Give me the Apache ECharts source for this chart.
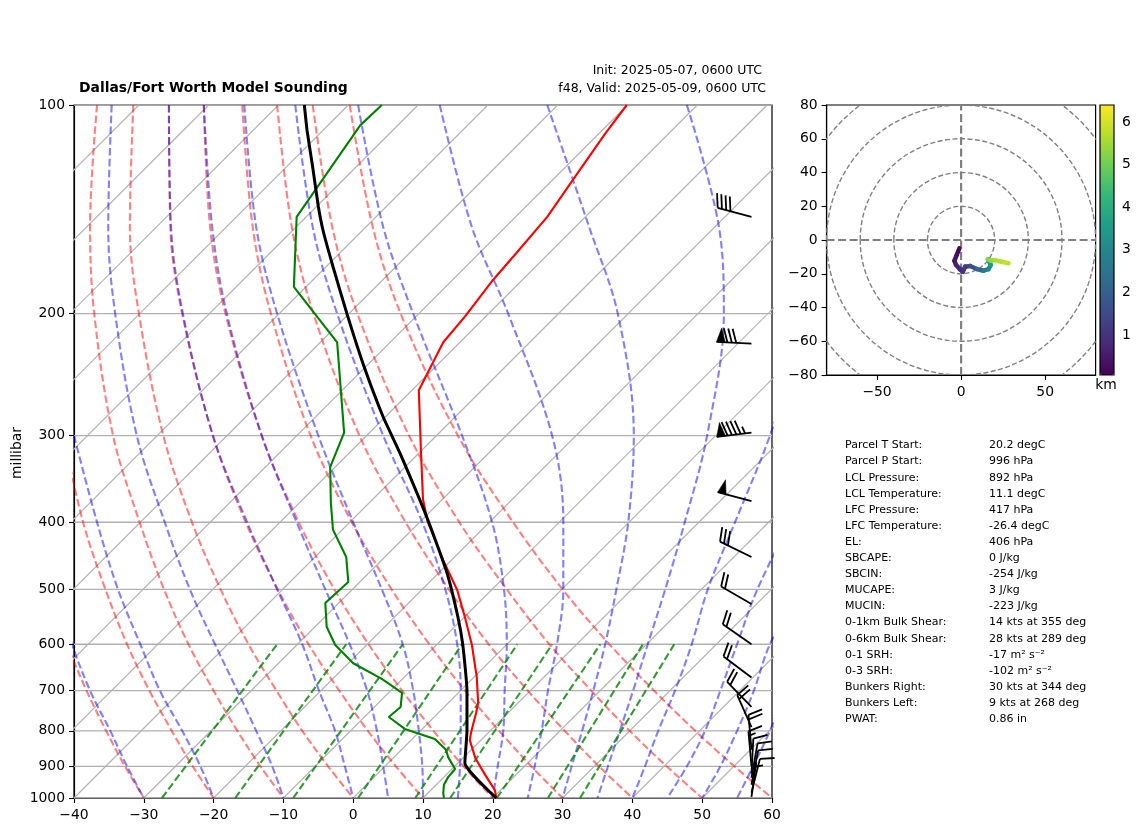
<!DOCTYPE html>
<html>
<head>
<meta charset="utf-8">
<title>Dallas/Fort Worth Model Sounding</title>
<script src="https://cdn.jsdelivr.net/npm/echarts@6/dist/echarts.min.js"></script>
<style>
  html, body { margin: 0; padding: 0; background: #fff; }
  #grafico { width: 1142px; height: 832px; }
</style>
</head>
<body>
<div id="grafico"></div>
<script>
// x values are read on the bottom axis of the skewed plot, y values are millibar
const xTicks = [-40, -30, -20, -10, 0, 10, 20, 30, 40, 50, 60];
const pressureTicks = [100, 200, 300, 400, 500, 600, 700, 800, 900, 1000];
const isothermStarts = [-130, -120, -110, -100, -90, -80, -70, -60, -50, -40, -30, -20, -10, 0, 10, 20, 30, 40, 50];
const isothermSpan = 99.3;

// guide lines, read at these levels and aligned to the end of the list
const guideLevels = [100, 150, 200, 300, 400, 500, 600, 700, 800, 900, 1000];
const dryAdiabats = [
  [-43.8, -41, -38.2, -35.4, -32.7, -30],
  [-41.5, -38.7, -35.5, -32.4, -29.2, -26, -23, -20],
  [-36.7, -37.7, -37.1, -34.4, -30.6, -27.1, -23.6, -20, -16.6, -13.3, -10],
  [-31.5, -32, -30.7, -27.2, -23.1, -19, -15, -11, -7.3, -3.6, 0],
  [-26.4, -26.2, -24.5, -20.1, -15.4, -10.8, -6.4, -2, 2.1, 6.1, 10],
  [-21.4, -20.5, -18.3, -13.1, -7.8, -2.7, 2.2, 7, 11.5, 15.8, 20],
  [-15.9, -14.4, -11.8, -6.1, -0.2, 5.5, 10.9, 16, 20.9, 25.5, 30],
  [-10.9, -8.8, -5.7, 0.9, 7.5, 13.7, 19.4, 25, 30.3, 35.2, 40],
  [-5.8, -3, 0.6, 8, 15.2, 22, 28.1, 34.1, 39.6, 44.9, 50],
  [-0.5, 2.8, 6.8, 15, 22.9, 30, 36.7, 43.1, 49, 54.6, 60]
];
const moistAdiabats = [
  [-42.7, -40.3, -37.7, -34.8, -32.4, -30],
  [-40, -36.7, -33.7, -30.5, -27.7, -24.5, -21.9, -20],
  [-34.6, -35.1, -34.1, -31, -27, -23.4, -19.8, -16.6, -13.9, -11.6, -10],
  [-26.4, -26.1, -24.4, -20.1, -15.2, -10.9, -7.3, -4.9, -2.6, -1.2, 0],
  [-21.4, -20.2, -18.1, -13.1, -8.1, -4, -0.5, 2, 3.4, 4.3, 5],
  [-15.6, -13.9, -10.9, -5, 0, 4.1, 7.1, 8.6, 9.4, 9.9, 10],
  [-8.3, -5.8, -2.3, 4.3, 9.9, 13.2, 14.9, 15.4, 15.4, 15.3, 15],
  [0.7, 4.3, 8.6, 15.6, 19.9, 21.6, 22, 21.7, 21.5, 20.7, 20],
  [12.4, 17, 22.2, 28.5, 30.1, 30.1, 29.2, 27.9, 27, 26, 25],
  [27.8, 33.8, 37.9, 40.2, 39.4, 37.7, 36.1, 34.4, 32.8, 31.3, 30],
  [47.8, 52.4, 53.1, 50.7, 47.5, 44.7, 42.2, 40.1, 38.2, 36.5, 35],
  [65.4, 59.7, 54.7, 50.8, 48.5, 46.1, 43.7, 41.8, 40],
  [62.6, 57.9, 55, 52.6, 50.4, 47.8, 45],
  [64, 59.7, 57.4, 55, 52.6, 50],
  [65.4, 62, 59.7, 57.3, 55]
];
const mixingBottom = [-27.4, -16.9, -8.6, 0.7, 8.9, 13.9, 20.6, 27.9, 32.5];
const mixingTop = [-10.9, -1, 7.1, 15.6, 23.5, 28.5, 35.4, 41.5, 46];

// sounding profiles
const tempPressure = [100, 110, 129, 145, 163, 179, 202, 220, 258, 315, 371, 400, 454, 501, 548, 601, 669, 729, 754, 803, 825, 876, 926, 974, 1000];
const tempValues = [39.2, 36.1, 31.3, 27.8, 23.5, 20, 16, 12.9, 9.4, 9.7, 10, 10.7, 12.9, 14.9, 16, 17, 17.7, 17.9, 17.6, 16.9, 16.7, 17.5, 18.9, 20.3, 20.5];
const dewPressure = [100, 107, 145, 183, 220, 297, 333, 375, 410, 449, 488, 523, 566, 601, 639, 673, 705, 739, 764, 795, 822, 852, 873, 908, 933, 957, 983, 1000];
const dewValues = [4.1, 1, -8.1, -8.5, -2.3, -1.3, -3.3, -3.2, -2.9, -1, -0.7, -4, -3.8, -2.6, 0, 4.1, 7, 6.8, 5.1, 7.4, 11.7, 13.3, 13.6, 14.6, 13.6, 13, 12.9, 13];
const parcelPressure = [100, 109, 123, 140, 152, 171, 200, 236, 282, 318, 397, 472, 548, 601, 700, 800, 890, 1000];
const parcelValues = [-7, -6.6, -5.8, -5, -4.3, -2.9, -0.9, 1.4, 4.3, 6.7, 10.7, 13.4, 15, 15.7, 16.3, 16.3, 16, 20.5];

// wind barbs
const barbColumn = 57.06;
const barbPressure = [145, 221, 297, 373, 449, 525, 600, 670, 739, 790, 852, 900, 922, 935, 957, 983, 996];
const barbSpeed = [40, 80, 95, 50, 30, 20, 20, 20, 20, 20, 20, 15, 10, 10, 10, 10, 5];
const barbDirection = [285, 273, 263, 285, 296, 300, 305, 307, 316, 336, 355, 355, 3, 10, 11, 14, 8];

// hodograph
const hodoU = [-1, -2.6, -4, -3, -0.6, 1, 2.4, 5.4, 9.3, 13.3, 16.3, 17.7, 15.9, 17.7, 20.2, 24, 28.2];
const hodoV = [-4.9, -8.9, -12.3, -14.8, -17.4, -18.8, -15.8, -15.4, -17.2, -18.2, -17.2, -14.8, -11.5, -12.3, -11.9, -12.9, -13.8];
const hodoHeight = [0.06, 0.2, 0.35, 0.5, 0.7, 0.85, 1, 1.2, 1.6, 2.2, 2.7, 3.1, 3.5, 5.2, 5.4, 5.6, 5.8];
const hodoRings = [20, 40, 60, 80, 100];
const viridis = ['#440154', '#482878', '#3e4989', '#31688e', '#26828e', '#1f9e89', '#35b779', '#6ece58', '#b5de2b', '#fde725'];

// parcel table
const statLabels = ['Parcel T Start:', 'Parcel P Start:', 'LCL Pressure:', 'LCL Temperature:', 'LFC Pressure:', 'LFC Temperature:', 'EL:', 'SBCAPE:', 'SBCIN:', 'MUCAPE:', 'MUCIN:', '0-1km Bulk Shear:', '0-6km Bulk Shear:', '0-1 SRH:', '0-3 SRH:', 'Bunkers Right:', 'Bunkers Left:', 'PWAT:'];
const statValues = ['20.2 degC', '996 hPa', '892 hPa', '11.1 degC', '417 hPa', '-26.4 degC', '406 hPa', '0 J/kg', '-254 J/kg', '3 J/kg', '-223 J/kg', '14 kts at 355 deg', '28 kts at 289 deg', '-17 m² s⁻²', '-102 m² s⁻²', '30 kts at 344 deg', '9 kts at 268 deg', '0.86 in'];

const font = 'DejaVu Sans';
const minus = v => String(v).replace('-', '\u2212');

function guideSeries(points, color, width, dashed, z) {
  return {
    type: 'line', xAxisIndex: 0, yAxisIndex: 0, data: points, symbol: 'none', silent: true, clip: true, z: z,
    lineStyle: { color: color, width: width, type: dashed ? [7.5, 3.3] : 'solid' }
  };
}

function levelPoints(values) {
  const levels = guideLevels.slice(-values.length);
  return values.map((v, i) => [v, levels[i]]);
}

function renderBarb(params, api) {
  const tip = api.coord([api.value(0), api.value(1)]);
  const dir = api.value(3) * Math.PI / 180;
  const ax = Math.sin(dir), ay = -Math.cos(dir);
  const nx = -ay, ny = ax;
  const length = 35, height = 14, width = 8.75, spacing = 4.4;
  const end = [tip[0] + ax * length, tip[1] + ay * length];
  const along = d => [end[0] - ax * d, end[1] - ay * d];
  const lineStyle = { stroke: '#000', lineWidth: 1.8, fill: null };
  const children = [{ type: 'line', shape: { x1: tip[0], y1: tip[1], x2: end[0], y2: end[1] }, style: lineStyle }];
  let left = api.value(2), pos = 0;
  while (left >= 50) {
    const a = along(pos), b = along(pos + width), c = along(pos + width / 2);
    children.push({ type: 'polygon', shape: { points: [a, b, [c[0] + nx * height, c[1] + ny * height]] }, style: { fill: '#000', stroke: '#000', lineWidth: 0.5 } });
    pos += width + spacing / 2;
    left -= 50;
  }
  while (left >= 10) {
    const a = along(pos);
    children.push({ type: 'line', shape: { x1: a[0], y1: a[1], x2: a[0] + nx * height + ax * width / 2, y2: a[1] + ny * height + ay * width / 2 }, style: lineStyle });
    pos += spacing;
    left -= 10;
  }
  if (left >= 5) {
    if (pos === 0) pos = spacing;
    const a = along(pos);
    children.push({ type: 'line', shape: { x1: a[0], y1: a[1], x2: a[0] + nx * height / 2 + ax * width / 4, y2: a[1] + ny * height / 2 + ay * width / 4 }, style: lineStyle });
  }
  return { type: 'group', children: children };
}

function renderRing(params, api) {
  const center = api.coord([0, 0]);
  const size = api.size([api.value(0), api.value(0)], [0, 0]);
  return {
    type: 'ellipse',
    shape: { cx: center[0], cy: center[1], rx: size[0], ry: size[1] },
    style: { fill: null, stroke: '#808080', lineWidth: 1.4, lineDash: [5, 2.5] }
  };
}

function renderHodoSegment(params, api) {
  const a = api.coord([api.value(0), api.value(1)]);
  const b = api.coord([api.value(2), api.value(3)]);
  return {
    type: 'line',
    shape: { x1: a[0], y1: a[1], x2: b[0], y2: b[1] },
    style: { stroke: api.visual('color'), lineWidth: 4.5, lineCap: 'round' }
  };
}

// main plot series
const series = [];
isothermStarts.forEach(t => series.push(guideSeries([[t, 1000], [t + isothermSpan, 100]], '#b4b4b4', 1.2, false, 1)));
pressureTicks.forEach(p => series.push(guideSeries([[xTicks[0], p], [xTicks[xTicks.length - 1], p]], '#b0b0b0', 1.3, false, 1)));
dryAdiabats.forEach(line => {
  const s = guideSeries(levelPoints(line), 'rgba(255,0,0,0.5)', 2.1, true, 2);
  s.smooth = 0.35;
  series.push(s);
});
moistAdiabats.forEach(line => {
  const s = guideSeries(levelPoints(line), 'rgba(0,0,255,0.5)', 2.1, true, 2);
  s.smooth = 0.35;
  series.push(s);
});
mixingBottom.forEach((v, i) => series.push(guideSeries([[v, 1000], [mixingTop[i], 600]], 'rgba(0,128,0,0.8)', 2.1, true, 2)));
series.push(guideSeries(tempValues.map((v, i) => [v, tempPressure[i]]), '#ff0000', 2.1, false, 5));
series.push(guideSeries(dewValues.map((v, i) => [v, dewPressure[i]]), '#008000', 2.1, false, 5));
const parcelLine = guideSeries(parcelValues.map((v, i) => [v, parcelPressure[i]]), '#000', 3, false, 6);
parcelLine.smooth = 0.15;
series.push(parcelLine);
series.push({
  type: 'custom', xAxisIndex: 0, yAxisIndex: 0, renderItem: renderBarb, silent: true, clip: false, z: 7,
  encode: { x: 0, y: 1 },
  data: barbPressure.map((p, i) => [barbColumn, p, barbSpeed[i], barbDirection[i]])
});

// hodograph series
series.push({
  type: 'line', xAxisIndex: 1, yAxisIndex: 1, symbol: 'none', silent: true, z: 2,
  data: [[-80, 0], [80, 0]], lineStyle: { color: '#808080', width: 2.2, type: [8, 3.5] }
});
series.push({
  type: 'line', xAxisIndex: 1, yAxisIndex: 1, symbol: 'none', silent: true, z: 2,
  data: [[0, -80], [0, 80]], lineStyle: { color: '#808080', width: 2.2, type: [8, 3.5] }
});
series.push({
  type: 'custom', xAxisIndex: 1, yAxisIndex: 1, renderItem: renderRing, silent: true, clip: true, z: 2,
  encode: { x: 0, y: 1 },
  data: hodoRings.map(r => [r, 0])
});
series.push({
  type: 'custom', xAxisIndex: 1, yAxisIndex: 1, renderItem: renderHodoSegment, silent: true, clip: true, z: 4,
  encode: { x: [0, 2], y: [1, 3] },
  data: hodoHeight.slice(1).map((h, i) => [hodoU[i], hodoV[i], hodoU[i + 1], hodoV[i + 1], h])
});
const hodoLineIndex = series.length - 1;

// titles, table and the km label
const texts = [
  { x: 79, y: 88, text: 'Dallas/Fort Worth Model Sounding', font: 'bold 13.9px "' + font + '"', align: 'left' },
  { x: 762, y: 71, text: 'Init: 2025-05-07, 0600 UTC', font: '12.5px "' + font + '"', align: 'right' },
  { x: 766, y: 89, text: 'f48, Valid: 2025-05-09, 0600 UTC', font: '12.5px "' + font + '"', align: 'right' },
  { x: 1106, y: 385, text: 'km', font: '13.9px "' + font + '"', align: 'center' }
];
statLabels.forEach((label, i) => {
  const y = 445.5 + i * 16.1;
  texts.push({ x: 845, y: y, text: label, font: '11px "' + font + '"', align: 'left' });
  texts.push({ x: 989, y: y, text: statValues[i], font: '11px "' + font + '"', align: 'left' });
});

const axisLine = { show: true, onZero: false, lineStyle: { color: '#000', width: 1.2 } };
const axisTick = { show: true, length: 5, lineStyle: { color: '#000', width: 1.1 } };
const axisLabel = { color: '#000', fontFamily: font, fontSize: 13.9, margin: 10, formatter: minus };
const sideLabel = Object.assign({}, axisLabel, { margin: 9 });

const chart = echarts.init(document.getElementById('grafico'));
chart.setOption({
  animation: false,
  backgroundColor: '#fff',
  textStyle: { fontFamily: font },
  grid: [
    { left: 74, top: 105, width: 698, height: 693, show: true, borderColor: '#000', borderWidth: 1.2, backgroundColor: 'transparent', outerBoundsMode: 'none' },
    { left: 826.6, top: 105, width: 269, height: 270, show: true, borderColor: '#000', borderWidth: 1.2, backgroundColor: 'transparent', outerBoundsMode: 'none' },
    { left: 1100, top: 105, width: 14, height: 270, show: true, borderColor: '#000', borderWidth: 1.2, backgroundColor: 'transparent', z: 10, outerBoundsMode: 'none' }
  ],
  xAxis: [
    { type: 'value', gridIndex: 0, min: -40, max: 60, interval: 10, axisLine: axisLine, axisTick: axisTick, axisLabel: axisLabel, splitLine: { show: false } },
    {
      type: 'value', gridIndex: 1, min: -80, max: 80, axisLine: axisLine, splitLine: { show: false },
      axisTick: Object.assign({}, axisTick, { customValues: [-50, 0, 50] }),
      axisLabel: Object.assign({}, axisLabel, { customValues: [-50, 0, 50] })
    },
    { type: 'value', gridIndex: 2, min: 0, max: 1, show: false }
  ],
  yAxis: [
    {
      type: 'log', gridIndex: 0, min: 100, max: 1000, logBase: 10, inverse: true,
      name: 'millibar', nameLocation: 'middle', nameGap: 50, nameMoveOverlap: false,
      nameTextStyle: { color: '#000', fontFamily: font, fontSize: 13.9, padding: [0, 3, 0, 0] },
      axisLine: axisLine, splitLine: { show: false }, minorTick: { show: false },
      axisTick: Object.assign({}, axisTick, { customValues: pressureTicks }),
      axisLabel: Object.assign({}, sideLabel, { customValues: pressureTicks, formatter: v => String(Math.round(v)) })
    },
    { type: 'value', gridIndex: 1, min: -80, max: 80, interval: 20, axisLine: axisLine, axisTick: axisTick, axisLabel: sideLabel, splitLine: { show: false } },
    {
      type: 'value', gridIndex: 2, position: 'right', min: 0.06, max: 6.4, splitLine: { show: false }, axisLine: { show: false },
      axisTick: Object.assign({}, axisTick, { customValues: [1, 2, 3, 4, 5, 6] }),
      axisLabel: Object.assign({}, sideLabel, { margin: 8, customValues: [1, 2, 3, 4, 5, 6] })
    }
  ],
  visualMap: {
    type: 'continuous', seriesIndex: hodoLineIndex, dimension: 4, min: 0.06, max: 6.4,
    left: 1100, top: 105, itemWidth: 14, itemHeight: 270, padding: 0, calculable: false, showLabel: false,
    text: null, inRange: { color: viridis }
  },
  graphic: texts.map(t => ({
    type: 'text', silent: true, z: 20,
    style: { x: t.x, y: t.y, text: t.text, font: t.font, fill: '#000', textAlign: t.align, textVerticalAlign: 'middle' }
  })),
  series: series
});
</script>
</body>
</html>
